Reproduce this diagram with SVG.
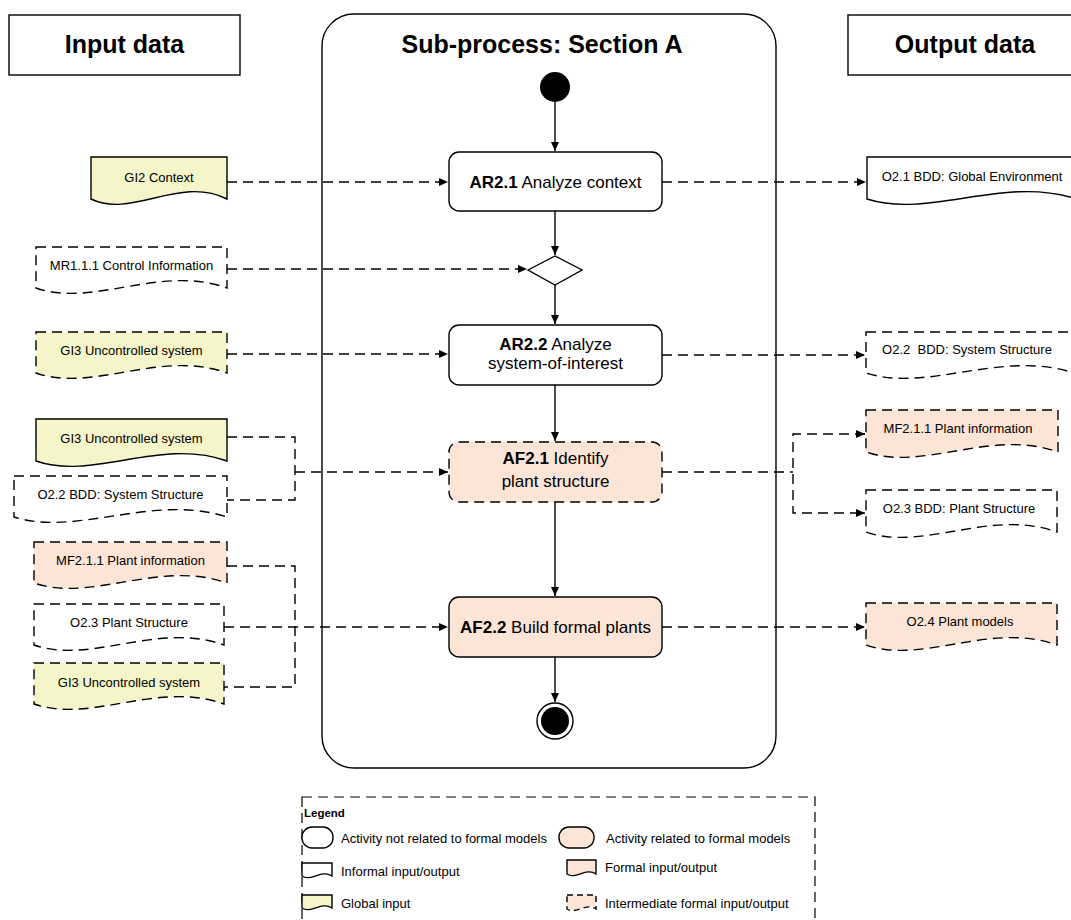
<svg xmlns="http://www.w3.org/2000/svg" width="1071" height="920" viewBox="0 0 1071 920">
<style>
text{font-family:"Liberation Sans",Arial,sans-serif;fill:#000}
.h{font-size:25px;font-weight:bold;text-anchor:middle}
.t{font-size:13px;text-anchor:middle}
.a{font-size:17px;text-anchor:middle}
.l{font-size:13px}
.b{font-weight:bold}
.s{stroke:#000;stroke-width:1.4}
.d{stroke-dasharray:10 6}
.w{fill:#fff}.y{fill:#f5f5c9}.p{fill:#fce4d6}
.c{fill:none;stroke:#000;stroke-width:1.4}
</style>
<defs>
<marker id="ar" markerUnits="userSpaceOnUse" markerWidth="10" markerHeight="9" refX="9" refY="4" orient="auto"><path d="M0,0 L9,4 L0,8 z" fill="#000"/></marker>
</defs>
<rect width="1071" height="920" fill="#fff"/>

<g id="frame">
<rect x="322" y="14" width="454" height="754" rx="32" fill="none" stroke="#000" stroke-width="1.4"/>
<text class="h" x="542" y="53">Sub-process: Section A</text>
</g>
<g id="input-header"><rect x="9" y="15" width="231" height="60" class="s w"/><text class="h" x="124.5" y="53">Input data</text></g>
<g id="output-header"><rect x="848" y="15" width="234" height="60" class="s w"/><text class="h" x="965" y="53">Output data</text></g>

<g id="connectors">
<path class="c" d="M555,102 V151" marker-end="url(#ar)"/>
<path class="c" d="M555,211 V255" marker-end="url(#ar)"/>
<path class="c" d="M555,285 V324" marker-end="url(#ar)"/>
<path class="c" d="M555,385 V441" marker-end="url(#ar)"/>
<path class="c" d="M555,502 V596" marker-end="url(#ar)"/>
<path class="c" d="M555,657 V702" marker-end="url(#ar)"/>
<g class="d">
<path class="c d" d="M227,182 H448" marker-end="url(#ar)"/>
<path class="c d" d="M227,269 H527" marker-end="url(#ar)"/>
<path class="c d" d="M227,354 H448" marker-end="url(#ar)"/>
<path class="c d" d="M662,182 H866" marker-end="url(#ar)"/>
<path class="c d" d="M662,355 H865" marker-end="url(#ar)"/>
<path class="c d" d="M227,437 H295 V500 H227"/>
<path class="c d" d="M295,472 H448" marker-end="url(#ar)"/>
<path class="c d" d="M662,472 H793"/>
<path class="c d" d="M865,434 H793 V513 H865"/>
<path class="c" d="M858,434 H865" marker-end="url(#ar)"/>
<path class="c" d="M858,513 H865" marker-end="url(#ar)"/>
<path class="c d" d="M227,566 H295 V687 H224"/>
<path class="c d" d="M224,627 H448" marker-end="url(#ar)"/>
<path class="c d" d="M662,627 H865" marker-end="url(#ar)"/>
</g>
</g>

<g id="start"><circle cx="555" cy="87" r="15" fill="#000"/></g>
<g id="AR2.1"><rect x="449" y="152" width="213" height="59" rx="10" class="s w"/><text class="a" x="555.5" y="188"><tspan class="b">AR2.1</tspan> Analyze context</text></g>
<g id="decision"><path d="M528,270 L555,256 L582,270 L555,285 Z" class="s w" stroke-width="1.2"/></g>
<g id="AR2.2"><rect x="449" y="325" width="213" height="60" rx="10" class="s w"/><text class="a" x="555.5" y="350"><tspan class="b">AR2.2</tspan> Analyze</text><text class="a" x="555.5" y="369">system-of-interest</text></g>
<g id="AF2.1"><rect x="449" y="442" width="213" height="60" rx="10" class="s p d"/><text class="a" x="555.5" y="464"><tspan class="b">AF2.1</tspan> Identify</text><text class="a" x="555.5" y="487">plant structure</text></g>
<g id="AF2.2"><rect x="449" y="597" width="213" height="60" rx="10" class="s p"/><text class="a" x="555.5" y="633"><tspan class="b">AF2.2</tspan> Build formal plants</text></g>
<g id="end"><circle cx="555" cy="721" r="18" class="s w"/><circle cx="555" cy="721" r="14" fill="#000"/></g>

<g id="GI2"><path d="M91,157 H227 V199 C179.4,175 131.8,219 91,199 Z" class="s y"/><text class="t" x="159" y="182">GI2 Context</text></g>
<g id="MR1.1.1"><path d="M36,247 H227 V288 C160.2,264 93.3,308 36,288 Z" class="s w d"/><text class="t" x="131.5" y="270">MR1.1.1 Control Information</text></g>
<g id="GI3-a"><path d="M36,332 H227 V373 C160.2,349 93.3,393 36,373 Z" class="s y d"/><text class="t" x="131.5" y="355">GI3 Uncontrolled system</text></g>
<g id="GI3-b"><path d="M36,419 H227 V461 C160.2,437 93.3,481 36,461 Z" class="s y"/><text class="t" x="131.5" y="443">GI3 Uncontrolled system</text></g>
<g id="O2.2-in"><path d="M14,476 H227 V517 C152.5,493 77.9,537 14,517 Z" class="s w d"/><text class="t" x="120.5" y="499">O2.2 BDD: System Structure</text></g>
<g id="MF2.1.1-in"><path d="M34,542 H227 V583 C159.5,559 91.9,603 34,583 Z" class="s p d"/><text class="t" x="130.5" y="565">MF2.1.1 Plant information</text></g>
<g id="O2.3-in"><path d="M34,604 H224 V645 C157.5,621 91,665 34,645 Z" class="s w d"/><text class="t" x="129" y="627">O2.3 Plant Structure</text></g>
<g id="GI3-c"><path d="M34,663 H224 V704 C157.5,680 91,724 34,704 Z" class="s y d"/><text class="t" x="129" y="687">GI3 Uncontrolled system</text></g>

<g id="O2.1"><path d="M867,157 H1077 V199 C1003.5,175 930,219 867,199 Z" class="s w"/><text class="t" x="972" y="181">O2.1 BDD: Global Environment</text></g>
<g id="O2.2-out"><path d="M866,332 H1074 V373 C1001.2,349 928.4,393 866,373 Z" class="s w d"/><text class="t" x="967" y="354" xml:space="preserve">O2.2  BDD: System Structure</text></g>
<g id="MF2.1.1-out"><path d="M866,410 H1058 V452 C990.8,428 923.6,472 866,452 Z" class="s p d"/><text class="t" x="958" y="433">MF2.1.1 Plant information</text></g>
<g id="O2.3-out"><path d="M866,490 H1057 V532 C990.2,508 923.3,552 866,532 Z" class="s w d"/><text class="t" x="959" y="513">O2.3 BDD: Plant Structure</text></g>
<g id="O2.4"><path d="M866,603 H1057 V645 C990.2,621 923.3,665 866,645 Z" class="s p d"/><text class="t" x="960" y="626">O2.4 Plant models</text></g>

<g id="legend">
<rect x="302" y="797" width="513" height="140" fill="none" stroke="#000" stroke-width="1.2" stroke-dasharray="10 6"/>
<text x="304" y="817" font-size="11.5" font-weight="bold">Legend</text>
<rect x="302" y="827" width="31" height="21" rx="10" class="s w" stroke-width="1.2"/>
<text class="l" x="341" y="843">Activity not related to formal models</text>
<rect x="559" y="827" width="35" height="21" rx="10" class="s p" stroke-width="1.2"/>
<text class="l" x="606" y="843">Activity related to formal models</text>
<path d="M302,863 H332 V876 C321.5,869 311,882 302,876 Z" class="s w" stroke-width="1.2"/>
<text class="l" x="341" y="876">Informal input/output</text>
<path d="M567,860 H596 V874 C585.9,867 575.7,880 567,874 Z" class="s p" stroke-width="1.2"/>
<text class="l" x="605" y="872">Formal input/output</text>
<path d="M302,895 H332 V908 C321.5,901 311,914 302,908 Z" class="s y" stroke-width="1.2"/>
<text class="l" x="341" y="908">Global input</text>
<path d="M567,895 H596 V909 C585.9,902 575.7,915 567,909 Z" class="s p" stroke-width="1.2" stroke-dasharray="6 4"/>
<text class="l" x="605" y="908">Intermediate formal input/output</text>
</g>
</svg>
